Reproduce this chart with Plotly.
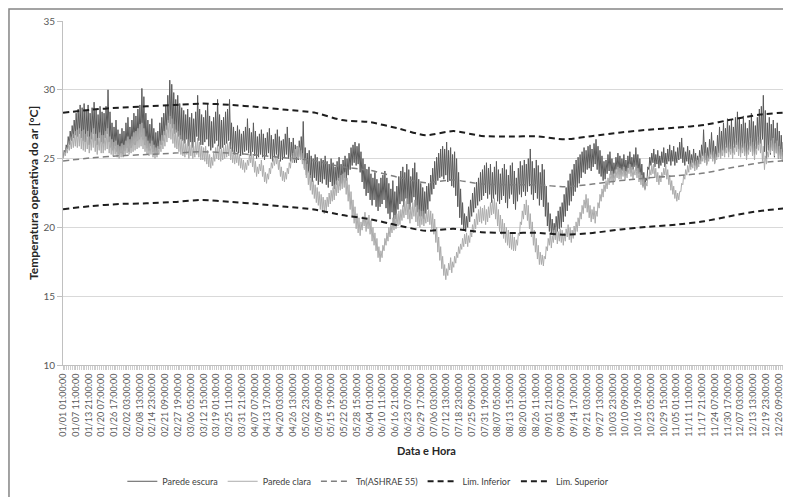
import plotly.graph_objects as go

# ---------------- data ----------------
# daily extremes of the hourly series, one value per day (365 days)
escura_max = [
    25.6, 26.0, 26.6, 27.0, 27.4, 27.8, 28.3, 28.6, 28.9, 28.7,
    29.0, 28.5, 28.9, 28.3, 28.7, 29.1, 28.6, 28.2, 28.8, 28.4,
    28.3, 28.8, 30.0, 28.4, 27.6, 27.3, 27.8, 27.1, 26.8, 27.2,
    27.0, 27.6, 28.0, 27.3, 27.8, 28.3, 28.1, 28.6, 28.9, 30.1,
    29.5, 28.3, 27.8, 27.5, 27.9, 27.2, 26.9, 27.0, 27.6, 28.0,
    28.3, 28.9, 29.6, 30.7, 30.4, 29.8, 29.3, 29.6, 29.0, 28.7,
    28.5, 28.2, 28.6, 28.0, 28.3, 27.9, 28.4, 29.6, 28.6, 28.2,
    28.0, 28.5, 29.0, 28.1, 27.7, 28.0, 28.4, 29.3, 28.2, 27.8,
    28.0, 28.4, 28.6, 29.3, 27.6, 27.3, 27.0, 27.4, 27.1, 26.8,
    27.0, 27.3, 27.9, 27.2, 26.9, 27.6, 27.0, 26.6, 26.8, 27.1,
    26.8, 26.5, 26.9, 27.2, 26.7, 26.4, 26.8, 27.1, 26.6, 26.3,
    26.4, 26.8, 27.3, 26.5, 26.2, 26.5, 26.0, 25.9, 26.3, 26.6,
    27.7, 25.8, 25.4, 25.6, 25.2, 25.0, 25.3, 25.1, 24.8, 25.0,
    24.9, 25.2, 24.8, 24.6, 25.0, 24.7, 24.4, 24.8, 25.1, 24.6,
    24.9, 25.2, 25.0, 25.4, 25.8, 26.0, 26.2, 25.9, 26.1, 25.5,
    25.0, 24.6, 24.2, 24.4, 23.9, 23.6, 24.0, 23.5, 23.2, 23.6,
    23.8, 24.1, 23.6, 23.2, 22.8, 23.4, 22.6, 23.0, 23.7, 24.1,
    24.4, 24.0, 24.6, 24.2, 23.7, 24.3, 24.7, 24.0, 23.5, 23.2,
    22.9, 22.6, 23.0, 23.2, 23.8, 24.3, 24.8, 25.1, 25.4, 25.7,
    25.9, 25.7, 26.2, 25.6, 25.8, 25.3, 25.5, 25.0, 24.0, 22.8,
    21.8, 21.0, 20.8, 21.5, 22.0, 22.5, 22.9, 23.3, 23.6, 24.0,
    24.2, 24.5, 24.7, 24.3, 24.6, 24.0, 24.4, 24.8, 24.2, 23.9,
    24.3, 24.6, 24.2, 23.8, 24.5, 24.7, 24.1, 23.6, 24.3, 24.8,
    24.5, 24.9, 24.6, 25.0, 25.7, 24.8, 24.3, 24.9, 24.5, 24.0,
    24.6, 24.2, 23.0, 21.8, 21.0, 20.6, 20.3, 20.8, 21.2, 21.5,
    21.8, 22.4, 22.9, 23.4, 23.9, 24.2, 24.6, 24.9, 25.1, 25.3,
    25.5, 25.8, 25.6, 25.9, 26.0, 25.7, 26.1, 26.4, 25.9, 25.6,
    25.2, 24.8, 24.9, 25.3, 25.5, 25.0, 24.7, 25.1, 25.4, 25.2,
    25.0, 25.3, 24.9, 25.2, 25.5, 25.1, 25.3, 25.8, 25.3, 25.0,
    24.6, 24.0, 23.6, 24.4, 25.1, 25.4, 25.7, 25.3, 25.6, 25.2,
    25.5, 25.8, 25.4, 25.7, 26.0, 25.6, 25.9, 25.5, 25.8, 26.2,
    26.5, 25.8, 25.5, 25.9, 25.6, 25.3, 25.7, 25.4, 25.2, 25.6,
    26.0, 27.1, 26.2, 25.8, 26.4, 26.9, 26.3, 25.9, 26.7, 27.3,
    27.0, 27.6, 27.2, 27.9, 27.4, 27.8, 27.3, 28.0, 28.4, 27.9,
    27.5, 28.1, 27.6, 27.2, 27.8, 28.3, 27.7, 27.4, 28.0, 28.6,
    28.8, 29.6, 28.5, 27.6, 28.0, 27.5, 27.8, 27.2, 27.6, 27.0,
    26.7, 26.2, 25.8, 25.6, 25.3,
]
escura_min = [
    25.1, 25.4, 25.7, 26.0, 26.3, 26.5, 26.7, 26.6, 26.8, 26.5,
    26.3, 26.2, 26.6, 26.0, 26.4, 26.8, 26.3, 26.0, 26.5, 26.2,
    26.1, 26.5, 26.8, 26.2, 25.8, 25.6, 25.9, 25.5, 25.3, 25.4,
    25.3, 25.6, 25.8, 25.5, 25.8, 26.1, 26.0, 26.3, 26.4, 26.6,
    26.4, 26.0, 25.8, 25.6, 25.9, 25.5, 25.3, 25.4, 25.7, 26.0,
    26.3, 26.7, 27.1, 27.6, 27.5, 27.2, 26.8, 26.9, 26.6, 26.4,
    26.3, 26.1, 26.4, 25.9, 26.2, 25.8, 26.2, 26.6, 26.3, 26.0,
    26.0, 26.2, 26.4, 25.9, 25.6, 25.8, 26.1, 26.3, 25.9, 25.7,
    25.8, 26.0, 26.1, 26.3, 25.7, 25.5, 25.3, 25.5, 25.4, 25.2,
    25.3, 25.5, 25.6, 25.4, 25.2, 25.5, 25.2, 25.0, 25.1, 25.3,
    25.1, 24.9, 25.2, 25.4, 25.0, 24.8, 25.1, 25.3, 25.0, 24.8,
    24.9, 25.1, 25.3, 25.0, 24.8, 25.0, 24.7, 24.7, 24.9, 25.1,
    25.0, 24.3, 23.8, 24.0, 23.6, 23.3, 23.6, 23.4, 23.1, 23.3,
    23.2, 23.5, 23.1, 22.9, 23.3, 23.0, 22.8, 23.1, 23.4, 23.0,
    23.2, 23.6, 23.4, 23.8, 24.2, 24.5, 24.7, 24.5, 24.6, 24.0,
    23.3, 22.8, 22.3, 22.5, 22.0, 21.6, 22.0, 21.5, 21.2, 21.5,
    21.7, 22.0, 21.4, 21.0, 20.6, 21.1, 20.2, 20.6, 21.3, 21.7,
    21.9, 21.5, 22.1, 21.7, 21.3, 21.8, 22.2, 21.5, 21.1, 20.8,
    20.8, 20.6, 21.0, 21.3, 21.9, 22.4, 22.8, 23.1, 23.4, 23.6,
    23.7, 23.5, 23.8, 23.3, 23.4, 23.0, 22.9, 22.3, 21.5, 20.7,
    20.2, 19.8, 19.7, 20.0, 20.4, 20.8, 21.1, 21.4, 21.6, 21.9,
    22.0, 22.3, 22.5, 22.1, 22.4, 21.8, 22.1, 22.4, 21.9, 21.7,
    22.0, 22.3, 21.8, 21.4, 22.1, 22.4, 21.7, 21.3, 21.9, 22.4,
    22.2, 22.6, 22.3, 22.6, 23.0, 22.4, 22.0, 22.5, 22.1, 21.6,
    22.0, 21.5, 20.8, 20.1, 19.7, 19.5, 19.4, 19.5, 19.7, 19.9,
    20.0, 20.4, 20.8, 21.2, 21.6, 21.9, 22.3, 22.6, 22.9, 23.2,
    23.6, 24.0, 23.9, 24.2, 24.3, 24.1, 24.4, 24.6, 24.2, 23.9,
    23.7, 23.4, 23.5, 23.9, 24.1, 23.8, 23.6, 23.9, 24.2, 24.0,
    23.9, 24.1, 23.8, 24.0, 24.3, 24.0, 24.2, 24.4, 24.1, 23.9,
    23.5, 23.0, 22.8, 23.4, 24.2, 24.5, 24.7, 24.4, 24.6, 24.3,
    24.5, 24.7, 24.4, 24.6, 24.8, 24.5, 24.8, 24.5, 24.7, 24.9,
    25.0, 24.7, 24.5, 24.8, 24.6, 24.4, 24.7, 24.5, 24.3, 24.6,
    24.8, 25.2, 24.9, 24.6, 25.0, 25.3, 25.0, 24.7, 25.1, 25.4,
    25.2, 25.6, 25.4, 25.8, 25.5, 25.7, 25.4, 25.8, 26.0, 25.7,
    25.4, 25.8, 25.5, 25.2, 25.6, 25.9, 25.5, 25.3, 25.7, 26.0,
    26.1, 26.4, 25.5, 25.0, 25.6, 25.3, 25.6, 25.1, 25.4, 25.0,
    25.0, 24.8, 24.7, 24.8, 24.9,
]
clara_max = [
    25.5, 25.7, 26.0, 26.3, 26.6, 26.8, 27.0, 27.1, 27.2, 27.0,
    27.1, 26.8, 27.0, 26.6, 26.9, 27.2, 26.8, 26.5, 26.9, 26.7,
    26.7, 27.0, 27.2, 26.6, 26.4, 26.2, 26.3, 26.0, 25.9, 26.1,
    26.0, 26.3, 26.6, 26.4, 26.6, 26.9, 27.0, 27.2, 27.5, 27.6,
    27.2, 26.6, 26.3, 26.1, 26.3, 26.0, 25.8, 25.9, 26.3, 26.7,
    27.0, 27.4, 27.8, 28.1, 27.9, 27.5, 27.1, 27.0, 26.7, 26.4,
    26.3, 26.1, 26.4, 26.0, 26.2, 25.9, 26.2, 26.5, 26.2, 25.9,
    25.8, 25.9, 25.6, 25.3, 25.1, 25.4, 25.8, 26.0, 25.9, 25.7,
    25.8, 26.0, 26.1, 26.2, 25.8, 25.6, 25.4, 25.5, 25.3, 25.0,
    24.9, 24.7, 24.9, 25.3, 25.5, 25.2, 24.8, 24.4, 24.6, 24.9,
    24.5, 24.0, 23.9, 24.3, 24.7, 25.0, 25.2, 25.3, 24.9, 24.4,
    24.1, 24.0, 24.3, 24.7, 25.1, 25.4, 25.7, 25.9, 25.8, 25.6,
    25.4, 25.0, 24.6, 24.1, 23.8, 23.4, 23.1, 22.9, 22.6, 22.4,
    22.2, 22.0, 22.2, 22.5, 22.7, 22.9, 23.1, 23.4, 23.6, 23.8,
    23.9, 24.0, 23.6, 23.1, 22.6, 22.0, 21.5, 21.0, 20.7, 20.4,
    20.8, 21.1, 20.7, 20.9, 20.5, 20.0, 19.6, 19.2, 18.6, 18.3,
    18.7, 19.2, 19.6, 20.0, 20.3, 20.7, 20.9, 21.0, 21.2, 21.3,
    21.6, 21.9, 22.1, 21.7, 21.5, 21.8, 22.0, 21.6, 21.3, 21.2,
    21.2, 21.0, 21.2, 21.3, 21.2, 21.0, 20.6, 20.0, 19.3, 18.6,
    17.9, 17.3, 17.0, 17.4, 17.8, 17.5, 17.9, 18.2, 18.6, 18.8,
    19.2, 19.5, 19.6, 19.4, 19.8, 20.2, 20.6, 21.0, 21.3, 21.5,
    21.4, 21.6, 21.3, 21.5, 21.8, 22.0, 22.1, 21.8, 21.3, 20.9,
    20.6, 20.3, 20.0, 19.8, 19.6, 19.5, 19.3, 19.1, 19.6, 20.4,
    21.2, 21.7, 22.0, 21.6, 21.0, 20.4, 19.8, 19.2, 18.7, 18.2,
    18.0, 17.9, 18.6, 19.2, 19.6, 19.4, 19.8, 20.0, 19.7, 19.9,
    19.8, 19.6, 19.9, 20.2, 20.0, 19.8, 20.1, 20.4, 20.7, 21.1,
    21.6, 22.0, 22.4, 22.1, 21.6, 21.3, 21.5, 21.2, 21.8, 22.4,
    22.8, 23.1, 23.4, 23.6, 23.9, 24.1, 23.9, 24.2, 24.4, 24.3,
    24.2, 24.4, 24.1, 24.3, 24.6, 24.4, 24.2, 24.5, 24.3, 24.0,
    23.8, 23.5, 23.3, 23.7, 24.2, 24.5, 24.6, 24.3, 24.0, 23.8,
    24.0, 24.3, 24.5, 24.2, 23.8, 23.4, 23.0, 22.7, 22.5, 22.6,
    23.2, 23.8, 24.2, 24.5, 24.7, 24.9, 25.0, 24.8, 24.9, 25.1,
    25.3, 25.5, 25.4, 25.2, 25.5, 25.7, 25.5, 25.3, 25.6, 25.9,
    25.8, 26.1, 25.9, 26.3, 26.0, 26.2, 25.9, 26.3, 26.5, 26.2,
    26.0, 26.3, 26.1, 25.8, 26.2, 26.5, 26.2, 25.9, 26.3, 26.6,
    26.4, 25.9, 25.2, 25.5, 26.0, 26.3, 26.5, 26.1, 26.3, 25.9,
    25.7, 25.5, 25.3, 25.3, 25.2,
]
clara_min = [
    25.0, 25.2, 25.4, 25.6, 25.7, 25.8, 25.9, 25.8, 25.9, 25.7,
    25.6, 25.5, 25.7, 25.4, 25.6, 25.8, 25.5, 25.3, 25.6, 25.4,
    25.4, 25.6, 25.7, 25.4, 25.3, 25.2, 25.3, 25.1, 25.0, 25.1,
    25.1, 25.2, 25.4, 25.3, 25.4, 25.5, 25.6, 25.7, 25.8, 25.9,
    25.7, 25.5, 25.3, 25.2, 25.3, 25.1, 25.0, 25.1, 25.3, 25.5,
    25.7, 25.9, 26.2, 26.5, 26.4, 26.1, 25.8, 25.7, 25.5, 25.3,
    25.2, 25.1, 25.3, 25.0, 25.2, 25.0, 25.1, 25.3, 25.1, 24.9,
    24.9, 24.8, 24.6, 24.4, 24.3, 24.5, 24.8, 25.0, 24.9, 24.8,
    24.9, 25.0, 25.1, 25.2, 24.9, 24.7, 24.6, 24.7, 24.5, 24.3,
    24.2, 24.0, 24.2, 24.5, 24.7, 24.4, 24.0, 23.7, 23.9, 24.1,
    23.7, 23.3, 23.2, 23.5, 23.9, 24.3, 24.5, 24.6, 24.2, 23.7,
    23.4, 23.3, 23.5, 23.9, 24.3, 24.7, 24.9, 25.1, 25.0, 24.9,
    24.6, 24.2, 23.6, 23.1, 22.7, 22.4, 22.1, 21.8, 21.6, 21.3,
    21.2, 21.0, 21.2, 21.5, 21.7, 21.9, 22.0, 22.3, 22.5, 22.7,
    22.8, 22.9, 22.4, 21.9, 21.3, 20.8, 20.3, 19.9, 19.6, 19.4,
    19.8, 20.1, 19.7, 19.9, 19.5, 19.0, 18.7, 18.3, 17.8, 17.5,
    17.8, 18.3, 18.7, 19.0, 19.3, 19.6, 19.8, 19.9, 20.1, 20.2,
    20.5, 20.7, 20.9, 20.6, 20.3, 20.6, 20.8, 20.4, 20.1, 20.0,
    20.2, 20.1, 20.3, 20.4, 20.2, 19.9, 19.5, 18.9, 18.2, 17.6,
    17.0, 16.5, 16.2, 16.5, 16.9, 16.7, 17.1, 17.4, 17.8, 18.1,
    18.4, 18.6, 18.8, 18.6, 18.9, 19.3, 19.6, 19.9, 20.2, 20.4,
    20.3, 20.5, 20.2, 20.4, 20.7, 20.9, 21.0, 20.6, 20.1, 19.7,
    19.5, 19.2, 18.9, 18.7, 18.5, 18.4, 18.3, 18.3, 18.7, 19.4,
    20.2, 20.6, 20.9, 20.5, 19.9, 19.3, 18.7, 18.2, 17.7, 17.3,
    17.3, 17.2, 17.7, 18.3, 18.7, 18.5, 18.9, 19.1, 18.8, 19.0,
    18.9, 18.7, 19.0, 19.3, 19.1, 18.9, 19.2, 19.5, 19.7, 20.1,
    20.6, 21.0, 21.4, 21.1, 20.7, 20.4, 20.6, 20.3, 20.8, 21.4,
    21.9, 22.2, 22.6, 22.8, 23.1, 23.3, 23.1, 23.4, 23.6, 23.5,
    23.5, 23.7, 23.4, 23.6, 23.9, 23.7, 23.5, 23.8, 23.6, 23.3,
    23.1, 22.9, 22.7, 23.0, 23.5, 23.8, 23.9, 23.6, 23.3, 23.1,
    23.3, 23.6, 23.8, 23.5, 23.1, 22.7, 22.4, 22.1, 21.9, 22.0,
    22.6, 23.1, 23.5, 23.8, 24.0, 24.2, 24.3, 24.1, 24.2, 24.4,
    24.6, 24.8, 24.7, 24.5, 24.8, 25.0, 24.8, 24.6, 24.9, 25.1,
    25.0, 25.2, 25.1, 25.4, 25.1, 25.3, 25.0, 25.3, 25.5, 25.2,
    25.1, 25.4, 25.2, 24.9, 25.3, 25.5, 25.2, 24.9, 25.3, 25.6,
    25.4, 24.8, 24.2, 24.6, 25.1, 25.4, 25.6, 25.2, 25.4, 25.0,
    25.0, 24.9, 24.8, 24.9, 24.9,
]

# comfort band, sampled every 14 days
ref_days = [0, 14, 28, 42, 56, 70, 84, 98, 112, 126, 140, 154, 168, 182,
            196, 210, 224, 238, 252, 266, 280, 294, 308, 322, 336, 350, 364]
tn_ashrae = [24.83, 25.05, 25.2, 25.3, 25.4, 25.5, 25.4, 25.25, 25.05, 24.85,
             24.4, 24.15, 23.65, 23.25, 23.45, 23.15, 23.1, 23.1, 22.95, 23.15,
             23.4, 23.6, 23.75, 23.95, 24.35, 24.7, 24.87]
lim_inferior = [21.32, 21.55, 21.7, 21.75, 21.85, 22.0, 21.85, 21.7, 21.5, 21.3,
                20.9, 20.6, 20.15, 19.75, 19.9, 19.65, 19.6, 19.6, 19.47, 19.6,
                19.85, 20.05, 20.2, 20.45, 20.85, 21.2, 21.4]
lim_superior = [28.33, 28.55, 28.7, 28.8, 28.9, 29.0, 28.9, 28.75, 28.55, 28.35,
                27.8, 27.65, 27.2, 26.7, 27.0, 26.65, 26.6, 26.62, 26.4, 26.65,
                26.9, 27.1, 27.25, 27.45, 27.85, 28.2, 28.37]

tick_labels = [
    "01/01 01:00:00", "01/07 11:00:00", "01/13 21:00:00", "01/20 07:00:00",
    "01/26 17:00:00", "02/02 03:00:00", "02/08 13:00:00", "02/14 23:00:00",
    "02/21 09:00:00", "02/27 19:00:00", "03/06 05:00:00", "03/12 15:00:00",
    "03/19 01:00:00", "03/25 11:00:00", "03/31 21:00:00", "04/07 07:00:00",
    "04/13 17:00:00", "04/20 03:00:00", "04/26 13:00:00", "05/02 23:00:00",
    "05/09 09:00:00", "05/15 19:00:00", "05/22 05:00:00", "05/28 15:00:00",
    "06/04 01:00:00", "06/10 11:00:00", "06/16 21:00:00", "06/23 07:00:00",
    "06/29 17:00:00", "07/06 03:00:00", "07/12 13:00:00", "07/18 23:00:00",
    "07/25 09:00:00", "07/31 19:00:00", "08/07 05:00:00", "08/13 15:00:00",
    "08/20 01:00:00", "08/26 11:00:00", "09/01 21:00:00", "09/08 07:00:00",
    "09/14 17:00:00", "09/21 03:00:00", "09/27 13:00:00", "10/03 23:00:00",
    "10/10 09:00:00", "10/16 19:00:00", "10/23 05:00:00", "10/29 15:00:00",
    "11/05 01:00:00", "11/11 11:00:00", "11/17 21:00:00", "11/24 07:00:00",
    "11/30 17:00:00", "12/07 03:00:00", "12/13 13:00:00", "12/19 23:00:00",
    "12/26 09:00:00",
]
HOURS = 8760
LABEL_STEP = 154


def daily_path(lows, highs):
    # daily minimum early morning, daily maximum in the afternoon (hour index)
    xs, ys = [], []
    for d, (lo, hi) in enumerate(zip(lows, highs)):
        xs += [24 * d + 4, 24 * d + 14]
        ys += [lo, hi]
    return xs, ys


fig = go.Figure()
xe, ye = daily_path(escura_min, escura_max)
xc, yc = daily_path(clara_min, clara_max)
fig.add_trace(go.Scatter(x=xe, y=ye, mode="lines", name="Parede escura",
                         line=dict(color="#5a5a5a", width=1)))
fig.add_trace(go.Scatter(x=xc, y=yc, mode="lines", name="Parede clara",
                         line=dict(color="#ababab", width=1)))
xr = [24 * d for d in ref_days]
fig.add_trace(go.Scatter(x=xr, y=tn_ashrae, mode="lines", name="Tn(ASHRAE 55)",
                         line=dict(color="#7f7f7f", width=1.5, dash="6px,4px",
                                   shape="spline", smoothing=0.6)))
fig.add_trace(go.Scatter(x=xr, y=lim_inferior, mode="lines", name="Lim. Inferior",
                         line=dict(color="#1e1e1e", width=2, dash="6px,4px",
                                   shape="spline", smoothing=0.6)))
fig.add_trace(go.Scatter(x=xr, y=lim_superior, mode="lines", name="Lim. Superior",
                         line=dict(color="#1e1e1e", width=2, dash="6px,4px",
                                   shape="spline", smoothing=0.6)))

# the page body keeps its default 8px margin, so the figure is sized to the
# remaining window area (791-8 x 497-8)
FONT = "Lato, 'Open Sans', sans-serif"
fig.update_layout(
    width=783, height=489,
    margin=dict(l=55, r=1, t=13, b=130),
    paper_bgcolor="white", plot_bgcolor="white",
    font=dict(family=FONT, color="#595959"),
    showlegend=True,
    legend=dict(orientation="h", x=0.42, xanchor="center", y=-0.338,
                yanchor="middle", font=dict(size=9, color="#404040"),
                tracegroupgap=0),
    xaxis=dict(
        range=[-0.5, HOURS - 0.5],
        tickmode="array",
        tickvals=[i * LABEL_STEP for i in range(len(tick_labels))],
        ticktext=tick_labels,
        tickangle=-90,
        ticklabeloverflow="allow",
        tickfont=dict(size=9, color="#595959"),
        ticks="outside", ticklen=4, tickcolor="#c8c8c8",
        minor=dict(tickmode="linear", tick0=0, dtick=22, ticks="outside",
                   ticklen=4, tickcolor="#cfcfcf", showgrid=False),
        showgrid=False, zeroline=False,
        showline=True, linecolor="#c0c0c0", linewidth=1,
    ),
    yaxis=dict(
        range=[10, 35], dtick=5, tick0=10,
        tickfont=dict(size=10, color="#595959"),
        ticks="outside", ticklen=5, tickcolor="#c0c0c0",
        showgrid=True, gridcolor="#d9d9d9", gridwidth=1,
        zeroline=False, showline=True, linecolor="#c0c0c0", linewidth=1,
    ),
    annotations=[
        dict(text="<b>Temperatura operativa do ar [°C]</b>", xref="paper", yref="paper",
             x=-0.0413, y=0.5, textangle=-90, showarrow=False,
             xanchor="center", yanchor="middle",
             font=dict(size=12, color="#262626", family=FONT)),
        dict(text="<b>Data e Hora</b>", xref="paper", yref="paper",
             x=0.5, y=-0.2486, showarrow=False, xanchor="center", yanchor="middle",
             font=dict(size=11, color="#262626", family=FONT)),
    ],
    shapes=[
        dict(type="rect", xref="paper", yref="paper",
             x0=-0.0743, x1=1.02, y0=-0.42, y1=1.0347,
             line=dict(color="#858585", width=1.5), fillcolor="rgba(0,0,0,0)",
             layer="above"),
    ],
)

fig.write_html("out.html")
